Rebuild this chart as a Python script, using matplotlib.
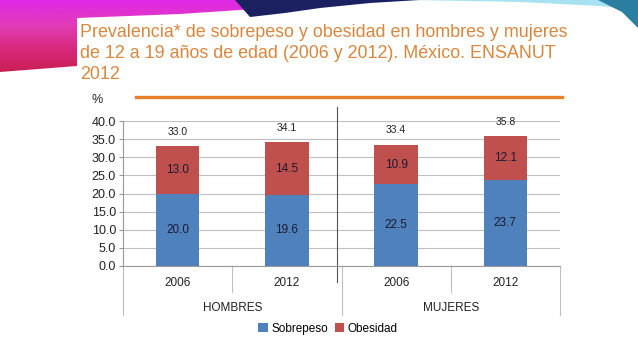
import matplotlib
matplotlib.use("Agg")
import matplotlib.pyplot as plt
from matplotlib.patches import Polygon
from matplotlib.colors import LinearSegmentedColormap
import numpy as np

groups = ["HOMBRES", "MUJERES"]
years = ["2006", "2012", "2006", "2012"]
sobrepeso = [20.0, 19.6, 22.5, 23.7]
obesidad = [13.0, 14.5, 10.9, 12.1]
totales = [33.0, 34.1, 33.4, 35.8]
yticks = [0, 5, 10, 15, 20, 25, 30, 35, 40]

blue = "#4F81BD"
red = "#C0504D"
title_color = "#D8873F"
font = "Liberation Sans"

W, H = 638, 359
fig = plt.figure(figsize=(W / 100, H / 100), dpi=100)
fig.patch.set_facecolor("white")

# decorative header (pixel coordinates)
bg = fig.add_axes([0, 0, 1, 1], zorder=-5)
bg.set_xlim(0, W)
bg.set_ylim(H, 0)
bg.axis("off")
grad = np.linspace(0, 1, 80).reshape(-1, 1)
cm = LinearSegmentedColormap.from_list("pk", ["#E028E8", "#E03CB8", "#D8287A", "#C81E50"])
im = bg.imshow(grad, cmap=cm, extent=(0, 330, 75, 0), aspect="auto", zorder=0)
pink = Polygon([(0, 0), (320, 0), (270, 8), (180, 14), (77, 18), (77, 66), (0, 72)],
               closed=True, facecolor="none", edgecolor="none", transform=bg.transData)
bg.add_patch(pink)
im.set_clip_path(pink)
bg.add_patch(Polygon([(235, 0), (420, 0), (370, 3), (320, 8), (285, 13), (250, 17)],
                     closed=True, facecolor="#1A2060", edgecolor="none", zorder=1))
bg.add_patch(Polygon([(410, 0), (638, 0), (638, 10), (600, 6), (520, 2)],
                     closed=True, facecolor="#A8E2F2", edgecolor="none", zorder=1))
bg.add_patch(Polygon([(598, 0), (638, 0), (638, 28), (622, 12)],
                     closed=True, facecolor="#2A7FA0", edgecolor="none", zorder=2))

def fx(px):
    return px / W

def fy(py):
    return 1 - py / H

fig.text(fx(80), fy(24),
         "Prevalencia* de sobrepeso y obesidad en hombres y mujeres\n"
         "de 12 a 19 años de edad (2006 y 2012). México. ENSANUT\n2012",
         color=title_color, fontsize=12.9, family=font, va="top", ha="left", linespacing=1.3)

fig.add_artist(plt.Line2D([fx(136), fx(562)], [fy(97), fy(97)], color="#E8822A", lw=2.4,
                          transform=fig.transFigure))
fig.text(fx(97), fy(100), "%", fontsize=9, family=font, ha="center", va="center", color="#222222")

ax = fig.add_axes([fx(123), fy(266), fx(560) - fx(123), (266 - 121) / H])
x = np.arange(len(years))
bw = 0.4
b1 = ax.bar(x, sobrepeso, bw, color=blue, label="Sobrepeso", zorder=3)
b2 = ax.bar(x, obesidad, bw, bottom=sobrepeso, color=red, label="Obesidad", zorder=3)

for xi, s, o, t in zip(x, sobrepeso, obesidad, totales):
    ax.text(xi, s / 2, f"{s:.1f}", ha="center", va="center", fontsize=8.5, color="#1a1a30", family=font, zorder=4)
    ax.text(xi, s + o / 2, f"{o:.1f}", ha="center", va="center", fontsize=8.5, color="#1a1a30", family=font, zorder=4)
    ax.text(xi, t + 4, f"{t:.1f}", ha="center", va="center", fontsize=7.5, color="#222222", family=font, zorder=4)

ax.set_xlim(-0.5, 3.5)
ax.set_ylim(0, 40)
ax.set_yticks(yticks)
ax.set_yticklabels([f"{v:.1f}" for v in yticks], fontsize=9, family=font, color="#222222")
ax.set_xticks([])
ax.grid(axis="y", color="#BFBFBF", lw=0.8, zorder=0)
for s in ["top", "right"]:
    ax.spines[s].set_visible(False)
ax.spines["left"].set_color("#999999")
ax.spines["bottom"].set_color("#999999")
ax.tick_params(axis="y", length=3, color="#999999", pad=2)

trans = ax.get_xaxis_transform()
for xb, y0 in zip([-0.5, 0.5, 1.5, 2.5, 3.5], [-0.338, -0.179, -0.338, -0.179, -0.338]):
    ax.plot([xb, xb], [0, y0], color="#BFBFBF", lw=0.8, transform=trans, clip_on=False)
for xi, yr in zip(x, years):
    ax.text(xi, -0.117, yr, transform=trans, ha="center", va="center", fontsize=8.5, family=font, color="#222222")
for gi, g in enumerate(groups):
    ax.text(0.5 + 2 * gi, -0.29, g, transform=trans, ha="center", va="center", fontsize=8.5, family=font, color="#222222")

# separator line between groups
ax.plot([1.46, 1.46], [-0.11, 1.097], color="#555555", lw=0.8, transform=trans, clip_on=False)

fig.legend(handles=[b1, b2], labels=["Sobrepeso", "Obesidad"], loc="center",
           bbox_to_anchor=(fx(328), fy(329)), ncol=2, frameon=False,
           prop={"family": font, "size": 8.5}, handlelength=0.8, handleheight=0.8,
           handletextpad=0.3, columnspacing=0.6)

fig.savefig("out.png", dpi=100, facecolor="white")
